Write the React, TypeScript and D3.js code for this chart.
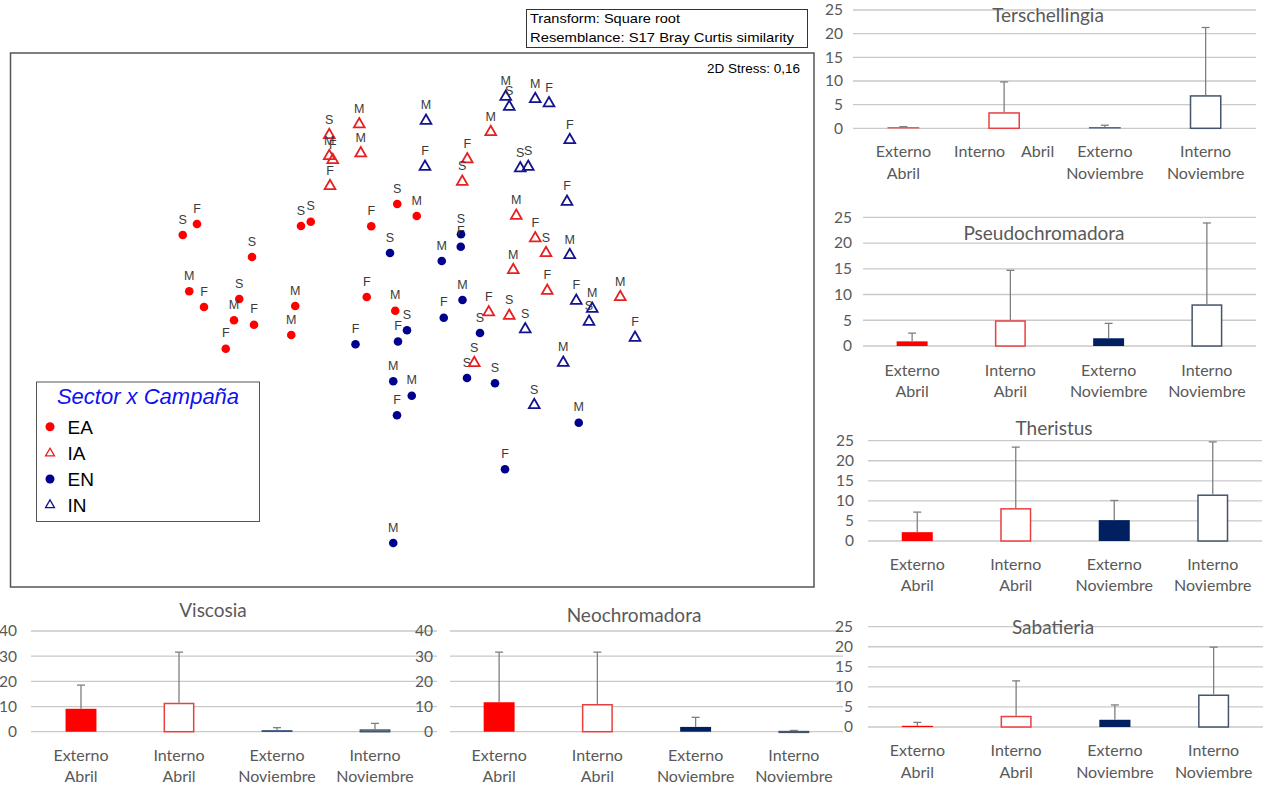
import React from 'react';
import * as d3 from 'd3';

// ---------- MDS data: [MDS1, MDS2, label] ----------
type Pt = [number, number, string];
const ptsEA: Pt[] = [
  [-0.917, 0.34, 'S'], [-0.86, 0.384, 'F'], [-0.444, 0.376, 'S'], [-0.405, 0.393, 'S'],
  [-0.64, 0.252, 'S'], [-0.891, 0.115, 'M'], [-0.832, 0.052, 'F'], [-0.691, 0.084, 'S'],
  [-0.712, -0.001, 'M'], [-0.632, -0.019, 'F'], [-0.745, -0.115, 'F'], [-0.467, 0.056, 'M'],
  [-0.483, -0.06, 'M'], [-0.059, 0.464, 'S'], [0.019, 0.416, 'M'], [-0.163, 0.375, 'F'],
  [-0.181, 0.092, 'F'], [-0.067, 0.037, 'M'],
];
const ptsEN: Pt[] = [
  [-0.088, 0.268, 'S'], [0.119, 0.236, 'M'], [0.196, 0.343, 'S'], [0.195, 0.293, 'F'],
  [0.202, 0.08, 'M'], [0.127, 0.009, 'F'], [0.272, -0.052, 'S'], [-0.226, -0.097, 'F'],
  [-0.02, -0.041, 'S'], [-0.056, -0.086, 'F'], [-0.075, -0.245, 'M'], [-0.001, -0.303, 'M'],
  [-0.06, -0.381, 'F'], [0.22, -0.232, 'S'], [0.332, -0.253, 'S'], [0.372, -0.597, 'F'],
  [0.667, -0.411, 'M'], [-0.075, -0.892, 'M'],
];
const ptsIA: Pt[] = [
  [-0.331, 0.74, 'S'], [-0.211, 0.783, 'M'], [-0.331, 0.656, 'M'], [-0.317, 0.64, 'F'],
  [-0.205, 0.667, 'M'], [-0.328, 0.536, 'F'], [0.315, 0.752, 'M'], [0.221, 0.643, 'F'],
  [0.201, 0.553, 'S'], [0.417, 0.417, 'M'], [0.493, 0.327, 'F'], [0.536, 0.268, 'S'],
  [0.405, 0.2, 'M'], [0.541, 0.117, 'F'], [0.833, 0.092, 'M'], [0.307, 0.031, 'F'],
  [0.389, 0.017, 'S'], [0.249, -0.172, 'S'],
];
const ptsIN: Pt[] = [
  [0.375, 0.893, 'M'], [0.389, 0.853, 'S'], [0.493, 0.884, 'M'], [0.548, 0.867, 'F'],
  [0.631, 0.72, 'F'], [0.433, 0.607, 'S'], [0.465, 0.613, 'S'], [0.62, 0.473, 'F'],
  [0.631, 0.26, 'M'], [0.056, 0.797, 'M'], [0.052, 0.613, 'F'], [0.657, 0.077, 'F'],
  [0.721, 0.045, 'M'], [0.708, -0.007, 'S'], [0.892, -0.071, 'F'], [0.453, -0.037, 'S'],
  [0.605, -0.171, 'M'], [0.489, -0.34, 'S'],
];
const legendNames = ['EA', 'IA', 'EN', 'IN'];

// ---------- Bar chart data ----------
const categoryLines = [['Externo', 'Abril'], ['Interno', 'Abril'], ['Externo', 'Noviembre'], ['Interno', 'Noviembre']];
const ticks25 = [0, 5, 10, 15, 20, 25];
const ticks40 = [0, 10, 20, 30, 40];

const terschMean = [0.2, 3.4, 0.2, 7.0];
const terschSd = [0.15, 6.4, 0.45, 14.3];
const pseudoMean = [0.9, 5.0, 1.5, 8.1];
const pseudoSd = [1.6, 9.7, 2.9, 15.8];
const therMean = [2.2, 8.2, 5.2, 11.6];
const therSd = [5.0, 15.2, 4.9, 13.1];
const sabaMean = [0.3, 2.8, 1.8, 8.1];
const sabaSd = [0.85, 8.7, 3.7, 11.8];
const viscMean = [9.1, 11.5, 0.55, 0.95];
const viscSd = [9.4, 20.1, 1.05, 2.35];
const neoMean = [11.7, 11.0, 1.9, 0.35];
const neoSd = [19.9, 20.6, 3.8, 0.15];

const barStyles = [
  { fill: '#FF0000', stroke: '#FF0000' },
  { fill: '#FFFFFF', stroke: '#E8403F' },
  { fill: '#002060', stroke: '#002060' },
  { fill: '#FFFFFF', stroke: '#44546A' },
];

const LATO = 'Lato, "Open Sans", sans-serif';
const ARIAL = '"Liberation Sans", Arial, sans-serif';

type Layout = {
  gx0: number; gx1: number; bx0: number; bx1: number;
  y0: number; y1: number; tickX: number; titleX: number; titleY: number;
  lab1: number; lab2: number;
};

function BarPanel(props: {
  title: string; means: number[]; sds: number[]; ticks: number[]; L: Layout;
  labels?: string[][];
}) {
  const { title, means, sds, ticks, L } = props;
  const labels = props.labels || categoryLines;
  const yMax = ticks[ticks.length - 1];
  const y = d3.scaleLinear().domain([0, yMax]).range([L.y0, L.y1]);
  const x = d3.scaleBand<number>().domain(d3.range(means.length)).range([L.bx0, L.bx1]);
  const bw = x.bandwidth() * 0.315;
  return (
    <g>
      {ticks.map((t) => (
        <g key={t}>
          <line x1={L.gx0} x2={L.gx1} y1={y(t)} y2={y(t)} stroke="#C9C9C9" strokeWidth={1.3} />
          <text x={L.tickX} y={y(t)} dy="0.35em" textAnchor="end" fontFamily={LATO} fontSize={15.5} fill="#595959">{t}</text>
        </g>
      ))}
      {means.map((m, i) => {
        const cx = (x(i) as number) + x.bandwidth() / 2;
        const st = barStyles[i];
        const top = y(m);
        const hollow = st.fill === '#FFFFFF';
        return (
          <g key={i}>
            <rect x={cx - bw / 2 + (hollow ? 0.75 : 0)} y={top + (hollow ? 0.75 : 0)}
              width={bw - (hollow ? 1.5 : 0)} height={Math.max(0.8, y(0) - top - (hollow ? 0.75 : 0))}
              fill={st.fill} stroke={hollow ? st.stroke : 'none'} strokeWidth={1.5} />
            <line x1={cx} x2={cx} y1={top} y2={y(m + sds[i])} stroke="#7F7F7F" strokeWidth={1.3} />
            <line x1={cx - 4} x2={cx + 4} y1={y(m + sds[i])} y2={y(m + sds[i])} stroke="#7F7F7F" strokeWidth={1.3} />
            {labels[i].length === 1 ? (
              <text x={cx} y={L.lab1} dy="0.35em" textAnchor="middle" fontFamily={LATO} fontSize={16} fill="#595959" xmlSpace="preserve">{labels[i][0]}</text>
            ) : (
              labels[i].map((s, k) => (
                <text key={k} x={cx} y={k === 0 ? L.lab1 : L.lab2} dy="0.35em" textAnchor="middle" fontFamily={LATO} fontSize={16} fill="#595959">{s}</text>
              ))
            )}
          </g>
        );
      })}
      <text x={L.titleX} y={L.titleY} dy="0.35em" textAnchor="middle" fontFamily={LATO} fontSize={19} fill="#595959">{title}</text>
    </g>
  );
}

export default function App() {
  const xM = d3.scaleLinear().domain([-1.6, 1.6]).range([12, 812]);
  const yM = d3.scaleLinear().domain([-1.07, 1.07]).range([587.5, 52.5]);
  const tri = d3.symbol().type(d3.symbolTriangle).size(50)() as string;
  const triSmall = d3.symbol().type(d3.symbolTriangle).size(34)() as string;

  const groups = [
    { pts: ptsEA, kind: 'dot', color: '#FF0000' },
    { pts: ptsEN, kind: 'dot', color: '#00008F' },
    { pts: ptsIA, kind: 'tri', color: '#E82020' },
    { pts: ptsIN, kind: 'tri', color: '#13138F' },
  ];
  const legendStyle = [
    { kind: 'dot', color: '#FF0000' },
    { kind: 'tri', color: '#E82020' },
    { kind: 'dot', color: '#00008F' },
    { kind: 'tri', color: '#13138F' },
  ];
  const legendY = [426.7, 453.3, 479, 505];

  const panels: { title: string; means: number[]; sds: number[]; ticks: number[]; L: Layout; labels?: string[][] }[] = [
    { title: 'Viscosia', means: viscMean, sds: viscSd, ticks: ticks40,
      L: { gx0: 31, gx1: 437, bx0: 32, bx1: 424, y0: 731.7, y1: 631, tickX: 17, titleX: 213, titleY: 610, lab1: 755, lab2: 776.7 } },
    { title: 'Neochromadora', means: neoMean, sds: neoSd, ticks: ticks40,
      L: { gx0: 450, gx1: 843, bx0: 450, bx1: 843, y0: 731.7, y1: 631, tickX: 433, titleX: 634, titleY: 615.7, lab1: 755, lab2: 776.7 } },
    { title: 'Terschellingia', means: terschMean, sds: terschSd, ticks: ticks25,
      L: { gx0: 853, gx1: 1256, bx0: 853, bx1: 1256, y0: 128.3, y1: 10, tickX: 843, titleX: 1048, titleY: 15, lab1: 151.7, lab2: 173.3 },
      labels: [['Externo', 'Abril'], ['Interno    Abril'], ['Externo', 'Noviembre'], ['Interno', 'Noviembre']] },
    { title: 'Pseudochromadora', means: pseudoMean, sds: pseudoSd, ticks: ticks25,
      L: { gx0: 863, gx1: 1256, bx0: 863, bx1: 1256, y0: 346, y1: 217.3, tickX: 852, titleX: 1044, titleY: 233.3, lab1: 370, lab2: 391 } },
    { title: 'Theristus', means: therMean, sds: therSd, ticks: ticks25,
      L: { gx0: 868, gx1: 1262, bx0: 868, bx1: 1262, y0: 541, y1: 440.7, tickX: 854, titleX: 1054, titleY: 428.3, lab1: 564, lab2: 585 } },
    { title: 'Sabatieria', means: sabaMean, sds: sabaSd, ticks: ticks25,
      L: { gx0: 868, gx1: 1263, bx0: 868, bx1: 1263, y0: 727, y1: 626.7, tickX: 853, titleX: 1053, titleY: 627.7, lab1: 750.7, lab2: 772 } },
  ];

  return (
    <svg width={1265} height={787} style={{ position: 'absolute', left: 0, top: 0, background: '#fff' }}>
      <rect x={0} y={0} width={1265} height={787} fill="#fff" />
      {/* Transform box */}
      <rect x={526.5} y={9.5} width={281} height={38} fill="#fff" stroke="#333" strokeWidth={1} />
      <text x={530} y={22.5} fontFamily={ARIAL} fontSize={13.5} fill="#000" textLength={150} lengthAdjust="spacingAndGlyphs">Transform: Square root</text>
      <text x={530} y={42} fontFamily={ARIAL} fontSize={13.5} fill="#000" textLength={264} lengthAdjust="spacingAndGlyphs">Resemblance: S17 Bray Curtis similarity</text>

      {/* MDS box */}
      <rect x={10.5} y={53} width={803.5} height={534} fill="#fff" stroke="#555" strokeWidth={1.5} />
      <text x={800} y={72.5} textAnchor="end" fontFamily={ARIAL} fontSize={13.5} fill="#000">2D Stress: 0,16</text>

      {groups.map((g, gi) => (
        <g key={gi}>
          {g.pts.map((p, i) => {
            const px = xM(p[0]);
            const py = yM(p[1]);
            return (
              <g key={i}>
                {g.kind === 'dot' ? (
                  <circle cx={px} cy={py} r={4.3} fill={g.color} />
                ) : (
                  <path d={tri} transform={`translate(${px},${py})`} fill="none" stroke={g.color} strokeWidth={1.8} />
                )}
                <text x={px} y={py - 11.5} textAnchor="middle" fontFamily={ARIAL} fontSize={12.5} fill="#3a3a3a">{p[2]}</text>
              </g>
            );
          })}
        </g>
      ))}

      {/* Legend */}
      <rect x={36.5} y={382} width={223} height={139.5} fill="#fff" stroke="#555" strokeWidth={1} />
      <text x={148} y={396.7} dy="0.35em" textAnchor="middle" fontFamily={ARIAL} fontStyle="italic" fontSize={22} fill="#1010F0">Sector x Campaña</text>
      {legendNames.map((n, i) => (
        <g key={n}>
          {legendStyle[i].kind === 'dot' ? (
            <circle cx={50} cy={legendY[i]} r={4.5} fill={legendStyle[i].color} />
          ) : (
            <path d={triSmall} transform={`translate(50,${legendY[i]})`} fill="none" stroke={legendStyle[i].color} strokeWidth={1.3} />
          )}
          <text x={67.5} y={legendY[i]} dy="0.36em" fontFamily={ARIAL} fontSize={19} fill="#000">{n}</text>
        </g>
      ))}

      {panels.map((p) => (
        <BarPanel key={p.title} title={p.title} means={p.means} sds={p.sds} ticks={p.ticks} L={p.L} labels={p.labels} />
      ))}
    </svg>
  );
}
